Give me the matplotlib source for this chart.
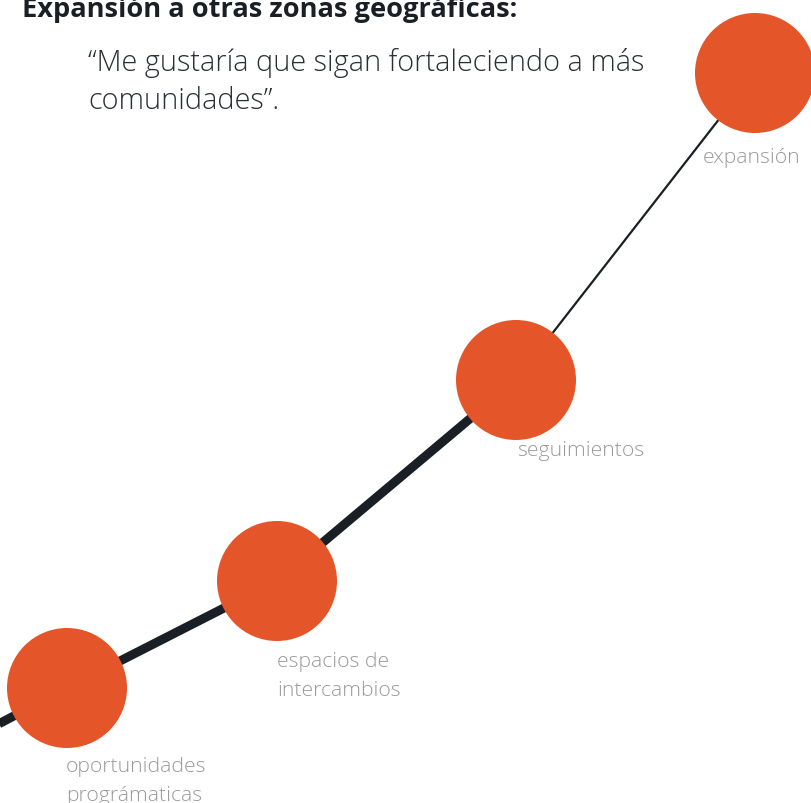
import matplotlib
matplotlib.use("Agg")
import matplotlib.pyplot as plt
from matplotlib.patches import Circle

# Data (pixel-space positions)
stages = ["oportunidades\nprográmaticas", "espacios de\nintercambios", "seguimientos", "expansión"]
stage_x = [67, 277, 516, 755]
stage_y = [689, 582, 381, 74]
line_start = (-30, 740)
label_x = [66, 277, 517, 752]
label_y = [767, 662, 451, 158]
label_ha = ["left", "left", "left", "center"]

title = "Expansión a otras zonas geográficas:"
quote_lines = ["“Me gustaría que sigan fortaleciendo a más", "comunidades”."]

W, H = 812, 804
fig = plt.figure(figsize=(W / 100, H / 100), dpi=100)
ax = fig.add_axes([0, 0, 1, 1])
ax.set_xlim(0, W)
ax.set_ylim(H, 0)
ax.axis("off")

dark = "#1a1f26"
orange = "#e5552a"
grey = "#9a9a9a"
font = ["Open Sans", "DejaVu Sans"]

# thick line: start -> seguimientos
xs = [line_start[0]] + stage_x[:3]
ys = [line_start[1]] + stage_y[:3]
ax.plot(xs, ys, color=dark, lw=6.5, solid_capstyle="butt", zorder=1)
# thin line: seguimientos -> expansión
ax.plot(stage_x[2:], stage_y[2:], color=dark, lw=1.6, zorder=1)

for x, y in zip(stage_x, stage_y):
    ax.add_patch(Circle((x, y), 60, color=orange, zorder=2, lw=0))

label_gap = 29
for s, x, y, ha in zip(stages, label_x, label_y, label_ha):
    for i, line in enumerate(s.split("\n")):
        ax.text(x, y + i * label_gap, line, ha=ha, va="center", fontsize=15.2,
                color=grey, family=font, fontweight="light")

ax.text(22, 17, title, ha="left", va="baseline", fontsize=19.6, color=dark,
        family=font, fontweight="bold")
quote_gap = 38
for i, line in enumerate(quote_lines):
    ax.text(88, 71 + i * quote_gap, line, ha="left", va="baseline", fontsize=20.8,
            color="#2b2f36", family=font, fontweight="light")

fig.savefig("out.png", dpi=100)
